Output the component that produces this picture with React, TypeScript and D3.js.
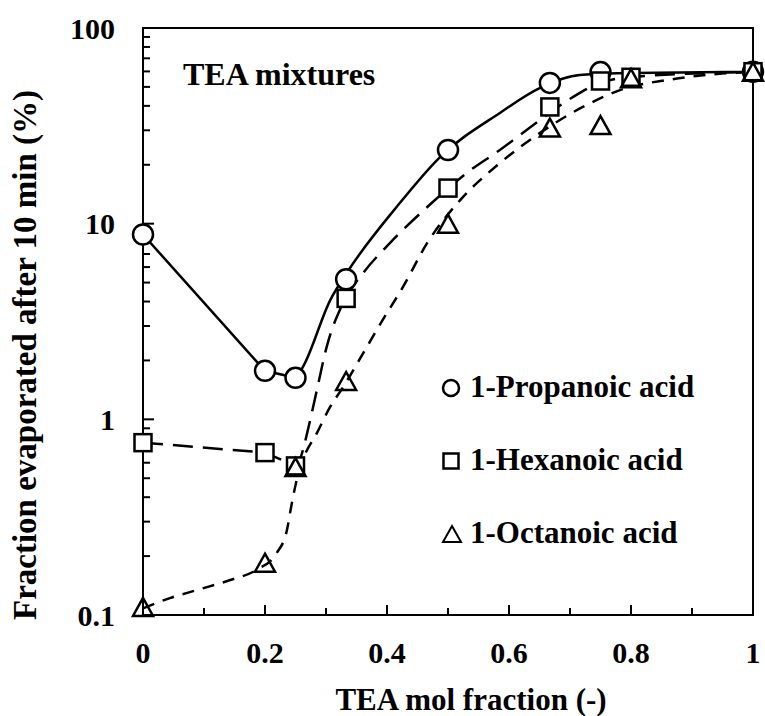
import React from "react";
import * as d3 from "d3";

// ---- data ----
const xTicksMajor = [0, 0.2, 0.4, 0.6, 0.8, 1];
const xTickLabels = ["0", "0.2", "0.4", "0.6", "0.8", "1"];
const yTicksMajor = [0.1, 1, 10, 100];
const yTickLabels = ["0.1", "1", "10", "100"];

const propX = [0, 0.2, 0.25, 0.333, 0.5, 0.667, 0.75, 1];
const propY = [8.8, 1.77, 1.63, 5.2, 23.8, 52.4, 59.5, 59.8];
const hexX = [0, 0.2, 0.25, 0.333, 0.5, 0.667, 0.75, 0.8, 1];
const hexY = [0.76, 0.676, 0.578, 4.15, 15.2, 39.5, 53.6, 56, 59.8];
const octX = [0, 0.2, 0.25, 0.333, 0.5, 0.667, 0.75, 0.8, 1];
const octY = [0.11, 0.185, 0.57, 1.57, 10.0, 31.0, 31.9, 55.4, 59.8];

// fitted curves
const propLinkX = [0, 0.2, 0.25];
const propLinkY = [8.8, 1.77, 1.63];
const propFitX = [0.25, 0.262, 0.307, 0.334, 0.416, 0.487, 0.585, 0.651, 0.716, 0.803, 1];
const propFitY = [1.63, 1.85, 4.07, 5.6, 12.2, 21.9, 36.8, 49.4, 57.5, 58.9, 59.6];

const hexLinkX = [0, 0.2, 0.25];
const hexLinkY = [0.76, 0.676, 0.578];
const hexFitX = [0.25, 0.257, 0.274, 0.285, 0.301, 0.328, 0.361, 0.405, 0.475, 0.531, 0.585, 0.651, 0.705, 0.749, 0.803, 1];
const hexFitY = [0.56, 0.62, 0.99, 1.41, 2.34, 3.93, 5.6, 7.97, 12.9, 18.2, 23.8, 33.9, 44.4, 52.4, 56.2, 59.6];

const octFitX = [0, 0.044, 0.088, 0.143, 0.186, 0.219, 0.236, 0.244, 0.252, 0.262, 0.285, 0.307, 0.328, 0.361, 0.393, 0.426, 0.466, 0.52, 0.585, 0.651, 0.721, 0.793, 0.859, 0.941, 1];
const octFitY = [0.108, 0.122, 0.134, 0.151, 0.17, 0.207, 0.272, 0.373, 0.49, 0.62, 0.85, 1.16, 1.46, 2.18, 3.22, 4.74, 7.97, 13.2, 20.4, 29.1, 39.5, 49.4, 54.2, 58.2, 59.6];

const legendNames = ["1-Propanoic acid", "1-Hexanoic acid", "1-Octanoic acid"];

const FONT = "'Liberation Serif', 'Times New Roman', serif";

export default function App() {
  const W = 765, H = 716;
  const left = 143, right = 753, top = 28, bottom = 615;
  const x = d3.scaleLinear().domain([0, 1]).range([left, right]);
  const y = d3.scaleLog().domain([0.1, 100]).range([bottom, top]);

  const zip = (xs: number[], ys: number[]) => xs.map((v, i) => [v, ys[i]] as [number, number]);
  const lineLin = d3.line<[number, number]>().x(d => x(d[0])).y(d => y(d[1]));
  const lineSmooth = d3.line<[number, number]>().x(d => x(d[0])).y(d => y(d[1])).curve(d3.curveMonotoneX);

  const xMinor = d3.range(0.1, 1.0, 0.2);
  const yMinor: number[] = [];
  [0.1, 1, 10].forEach(dec => { for (let k = 2; k <= 9; k++) yMinor.push(dec * k); });

  const sw = 2.5;
  const circle = (cx: number, cy: number, r: number, key: any) => (
    <circle key={key} cx={cx} cy={cy} r={r} fill="white" stroke="black" strokeWidth={sw} />
  );
  const square = (cx: number, cy: number, s: number, key: any) => (
    <rect key={key} x={cx - s / 2} y={cy - s / 2} width={s} height={s} fill="white" stroke="black" strokeWidth={sw} />
  );
  const tri = (cx: number, cy: number, w: number, h: number, key: any, fill = "white", strokeW = sw) => (
    <path key={key} d={`M${cx},${cy - h / 2}L${cx + w / 2},${cy + h / 2}L${cx - w / 2},${cy + h / 2}Z`} fill={fill} stroke="black" strokeWidth={strokeW} strokeLinejoin="miter" />
  );

  const legendY = [388, 461, 534];

  return (
    <svg width={W} height={H} style={{ position: "absolute", left: 0, top: 0, background: "white" }} fontFamily={FONT}>
      <rect x={0} y={0} width={W} height={H} fill="white" />
      {/* frame */}
      <rect x={left} y={top} width={right - left} height={bottom - top} fill="none" stroke="black" strokeWidth={2} />
      {/* x ticks */}
      {xTicksMajor.map((t, i) => (
        <line key={"xm" + i} x1={x(t)} x2={x(t)} y1={bottom} y2={bottom - 10} stroke="black" strokeWidth={2} />
      ))}
      {xMinor.map((t, i) => (
        <line key={"xn" + i} x1={x(t)} x2={x(t)} y1={bottom} y2={bottom - 7} stroke="black" strokeWidth={2} />
      ))}
      {xTicksMajor.map((t, i) => (
        <text key={"xl" + i} x={x(t)} y={663} textAnchor="middle" fontSize={30} fontWeight="bold">{xTickLabels[i]}</text>
      ))}
      {/* y ticks */}
      {yTicksMajor.map((t, i) => (
        <line key={"ym" + i} x1={left} x2={left + 11} y1={y(t)} y2={y(t)} stroke="black" strokeWidth={2} />
      ))}
      {yMinor.map((t, i) => (
        <line key={"yn" + i} x1={left} x2={left + 7} y1={y(t)} y2={y(t)} stroke="black" strokeWidth={2} />
      ))}
      {yTicksMajor.map((t, i) => (
        <text key={"yl" + i} x={115} y={y(t)} dy="0.35em" textAnchor="end" fontSize={30} fontWeight="bold">{yTickLabels[i]}</text>
      ))}
      {/* axis titles */}
      <text x={471} y={710} textAnchor="middle" fontSize={31} fontWeight="bold">TEA mol fraction (-)</text>
      <text transform={`translate(36,355) rotate(-90)`} textAnchor="middle" fontSize={33} fontWeight="bold">Fraction evaporated after 10 min (%)</text>
      <text x={183} y={85} fontSize={32} fontWeight="bold">TEA mixtures</text>

      {/* lines */}
      <path d={lineLin(zip(propLinkX, propLinkY)) || ""} fill="none" stroke="black" strokeWidth={sw} />
      <path d={lineSmooth(zip(propFitX, propFitY)) || ""} fill="none" stroke="black" strokeWidth={sw} />
      <path d={lineLin(zip(hexLinkX, hexLinkY)) || ""} fill="none" stroke="black" strokeWidth={sw} strokeDasharray="20,10" />
      <path d={lineSmooth(zip(hexFitX, hexFitY)) || ""} fill="none" stroke="black" strokeWidth={sw} strokeDasharray="20,10" />
      <path d={lineSmooth(zip(octFitX, octFitY)) || ""} fill="none" stroke="black" strokeWidth={sw} strokeDasharray="12,9" />

      {/* markers */}
      {propX.map((v, i) => circle(x(v), y(propY[i]), 10, "pc" + i))}
      {hexX.map((v, i) => square(x(v), y(hexY[i]), 17, "hs" + i))}
      {octX.map((v, i) => tri(x(v), y(octY[i]), 20, 18, "ot" + i, "none"))}

      {/* legend */}
      {circle(451, legendY[0], 8, "lg0")}
      {square(451, legendY[1], 15, "lg1")}
      {tri(452, legendY[2], 18, 16, "lg2", "none", 2)}
      {legendNames.map((n, i) => (
        <text key={"ln" + i} x={470} y={legendY[i] + 9} fontSize={31} fontWeight="bold">{n}</text>
      ))}
    </svg>
  );
}
